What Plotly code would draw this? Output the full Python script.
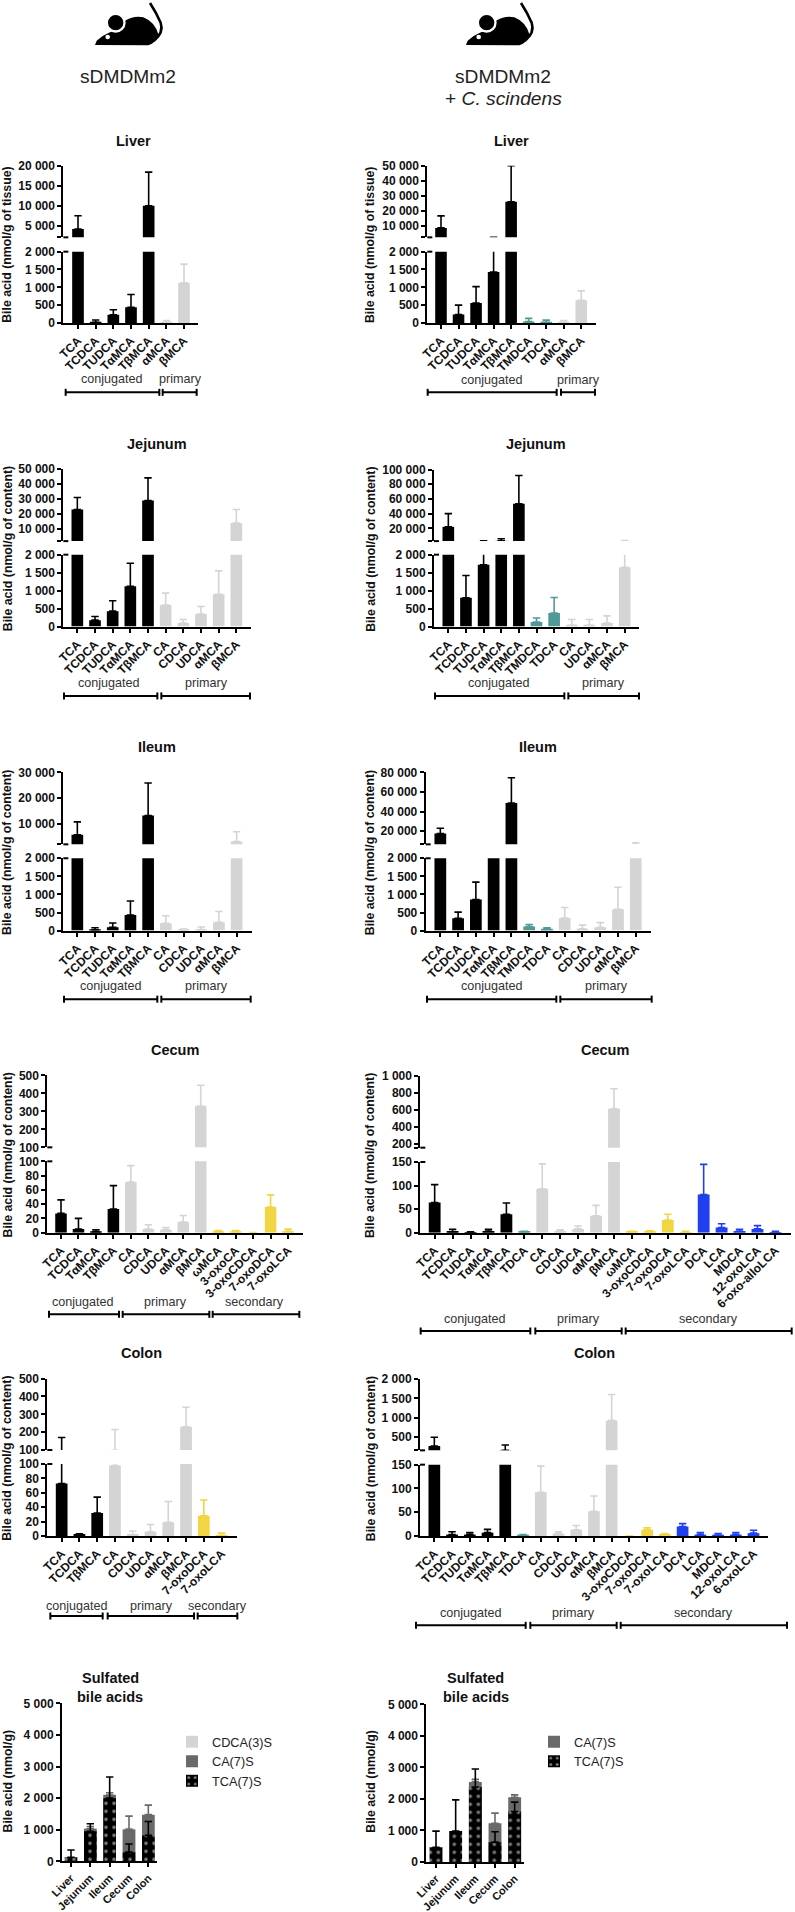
import plotly.graph_objects as go

W, H = 795, 1912
FONT = "Liberation Sans"
COL = dict(k="#000000", t="#4f9a97", g="#d4d4d4", y="#f2d544", b="#2040f0")

# ---------- data (means, upper error-bar ends, colour group) ----------
L_LIVER_LABELS = ["TCA", "TCDCA", "TUDCA", "TαMCA", "TβMCA", "αMCA", "βMCA"]
L_LIVER_MEAN = [4200, 20, 230, 440, 10000, 20, 1130]
L_LIVER_TOP = [7500, 84, 370, 800, 18400, 70, 1650]
L_LIVER_GRP = "kkkkkgg"

R_LIVER_LABELS = ["TCA", "TCDCA", "TUDCA", "TαMCA", "TβMCA", "TMDCA", "TDCA", "αMCA", "βMCA"]
R_LIVER_MEAN = [8500, 240, 560, 1430, 25900, 40, 20, 20, 640]
R_LIVER_TOP = [16500, 500, 1020, 2300, 50000, 130, 80, 70, 900]
R_LIVER_GRP = "kkkkkttgg"

L_JEJ_LABELS = ["TCA", "TCDCA", "TUDCA", "TαMCA", "TβMCA", "CA", "CDCA", "UDCA", "αMCA", "βMCA"]
L_JEJ_MEAN = [23000, 180, 430, 1120, 29000, 600, 100, 350, 900, 14000]
L_JEJ_TOP = [31000, 280, 720, 1760, 44000, 930, 200, 560, 1550, 23000]
L_JEJ_GRP = "kkkkkggggg"

R_JEJ_LABELS = ["TCA", "TCDCA", "TUDCA", "TαMCA", "TβMCA", "TMDCA", "TDCA", "CA", "UDCA", "αMCA", "βMCA"]
R_JEJ_MEAN = [22000, 800, 1720, 3000, 53500, 130, 380, 40, 40, 100, 1650]
R_JEJ_TOP = [40000, 1420, 3000, 5800, 92000, 240, 810, 200, 200, 300, 3500]
R_JEJ_GRP = "kkkkkttgggg"

L_ILE_LABELS = ["TCA", "TCDCA", "TUDCA", "TαMCA", "TβMCA", "CA", "CDCA", "UDCA", "αMCA", "βMCA"]
L_ILE_MEAN = [5800, 20, 90, 430, 13300, 200, 30, 30, 230, 3200]
L_ILE_TOP = [10800, 80, 210, 820, 25900, 410, 40, 100, 530, 7000]
L_ILE_GRP = "kkkkkggggg"

R_ILE_LABELS = ["TCA", "TCDCA", "TUDCA", "TαMCA", "TβMCA", "TMDCA", "TDCA", "CA", "CDCA", "UDCA", "αMCA", "βMCA"]
R_ILE_MEAN = [17600, 340, 860, 5000, 48800, 110, 50, 350, 50, 90, 590, 4500]
R_ILE_TOP = [23000, 510, 1340, 5000, 74600, 170, 80, 640, 150, 220, 1200, 8000]
R_ILE_GRP = "kkkkkttggggg"

L_CEC_LABELS = ["TCA", "TCDCA", "TαMCA", "TβMCA", "CA", "CDCA", "UDCA", "αMCA", "βMCA", "ωMCA",
                "3-oxoCA", "3-oxoCDCA", "7-oxoDCA", "7-oxoLCA"]
L_CEC_MEAN = [27, 5, 1.5, 33, 71, 5, 4, 15, 330, 1, 1, 0, 36, 2]
L_CEC_TOP = [46, 20, 4, 66, 94, 11, 7, 24, 445, 3, 3, 0, 53, 5]
L_CEC_GRP = "kkkkgggggyyyyy"

R_CEC_LABELS = ["TCA", "TCDCA", "TUDCA", "TαMCA", "TβMCA", "TDCA", "CA", "CDCA", "UDCA", "αMCA", "βMCA",
                "ωMCA", "3-oxoCDCA", "7-oxoDCA", "7-oxoLCA", "DCA", "LCA", "MDCA", "12-oxoLCA", "6-oxo-alloLCA"]
R_CEC_MEAN = [64, 2, 1, 3, 39, 2, 93, 3, 8, 36, 615, 2, 2, 27, 1, 81, 11, 3, 8, 1]
R_CEC_TOP = [102, 7, 2, 7, 63, 3, 146, 6, 14, 58, 850, 3, 4, 39, 3, 145, 19, 7, 15, 3]
R_CEC_GRP = "kkkkktgggggyyyybbbbb"

L_COL_LABELS = ["TCA", "TCDCA", "TβMCA", "CA", "CDCA", "UDCA", "αMCA", "βMCA", "7-oxoDCA", "7-oxoLCA"]
L_COL_MEAN = [73, 2, 32, 98, 2, 6, 19, 230, 28, 1]
L_COL_TOP = [170, 3, 54, 215, 7, 16, 48, 340, 50, 4]
L_COL_GRP = "kkkgggggyy"

R_COL_LABELS = ["TCA", "TCDCA", "TUDCA", "TαMCA", "TβMCA", "TDCA", "CA", "CDCA", "UDCA", "αMCA", "βMCA",
                "3-oxoCDCA", "7-oxoDCA", "7-oxoLCA", "DCA", "LCA", "MDCA", "12-oxoLCA", "6-oxoLCA"]
R_COL_MEAN = [276, 3, 3, 7, 165, 2, 92, 5, 13, 52, 935, 0, 13, 4, 20, 3, 1, 3, 6]
R_COL_TOP = [500, 9, 7, 14, 300, 3, 147, 9, 22, 84, 1600, 0, 17, 5, 26, 7, 5, 7, 12]
R_COL_GRP = "kkkkktgggggyyybbbbb"

SULF_LABELS = ["Liver", "Jejunum", "Ileum", "Cecum", "Colon"]
L_SULF_CDCA = [0, 1050, 2120, 1030, 1490]
L_SULF_CDCA_TOP = [0, 1060, 2130, 1040, 1500]
L_SULF_CA = [0, 1030, 2100, 1010, 1470]
L_SULF_CA_TOP = [0, 1100, 2170, 1430, 1780]
L_SULF_TCA = [130, 950, 2000, 290, 820]
L_SULF_TCA_TOP = [360, 1190, 2670, 550, 1260]
R_SULF_CA = [0, 0, 2540, 1230, 2050]
R_SULF_CA_TOP = [0, 0, 2620, 1550, 2130]
R_SULF_TCA = [470, 980, 2380, 630, 1600]
R_SULF_TCA_TOP = [980, 1970, 2950, 960, 1900]

# ---------- geometry, in px of the 795x1912 page ----------
YS = 1.13  # vertical factor for the jejunum/ileum readings

def z(o, v):
    return o + v / 3

fx = lambda px: px / W
fy = lambda py: 1 - py / H

fig = go.Figure()
shapes, annos = [], []
layout = {}

def text(t, x, y, size, bold=False, color="#111", angle=0, italic=False):
    annos.append(dict(text=t, x=fx(x), y=fy(y), xref="paper", yref="paper", showarrow=False,
                      xanchor="center", yanchor="middle", textangle=angle,
                      font=dict(family=FONT, size=size, color=color, weight=700 if bold else 400,
                                style="italic" if italic else "normal")))

def line(x0, y0, x1, y1, w=2, color="#000"):
    shapes.append(dict(type="line", xref="paper", yref="paper", x0=fx(x0), y0=fy(y0), x1=fx(x1), y1=fy(y1),
                       line=dict(color=color, width=w)))

def fmt(v):
    return f"{int(v):,}".replace(",", " ")

def axis_style():
    return dict(automargin=False, showgrid=False, zeroline=False, showline=True, linecolor="#000", linewidth=2,
                ticks="outside", ticklen=4, tickwidth=2, tickcolor="#000",
                tickfont=dict(family=FONT, size=12, color="#111", weight=700))

def xaxis(p, labels, x0px, step, left, right, yname, tick_size=12):
    style = axis_style()
    style["tickfont"]["size"] = tick_size
    layout[f"xaxis{p}"] = dict(style, domain=[fx(left), fx(right)], anchor=yname,
                               type="category", categoryorder="array", categoryarray=labels,
                               tickvals=labels, tickangle=-45,
                               range=[(left - x0px) / step, (right - x0px) / step])

def panel(p, labels, mean, top, grp, ox, oy, c0, step, xl, xr, axx, y0, ylt, yub, yut,
          low_ticks, up_ticks, up_bottom, up_label_bottom, title, tx, ty, ytitle, ytx, brackets, ys=1.0):
    low_top = low_ticks[-1]
    left, right = z(ox, axx), z(ox, xr)
    Y = lambda v: z(oy, v * ys)
    low, upn = 2 * p - 1, 2 * p
    xaxis(p, labels, z(ox, c0), step / 3, left, right, f"y{low}")
    layout[f"yaxis{low}"] = dict(axis_style(), domain=[fy(Y(y0)), fy(Y(ylt))], anchor=f"x{p}",
                                 range=[0, low_top], tickvals=low_ticks, ticktext=[fmt(v) for v in low_ticks])
    utv = [up_bottom] + up_ticks
    utt = [fmt(up_bottom) if up_label_bottom else ""] + [fmt(v) for v in up_ticks]
    layout[f"yaxis{upn}"] = dict(axis_style(), domain=[fy(Y(yub)), fy(Y(yut))], anchor=f"x{p}",
                                 range=[up_bottom, up_ticks[-1]], tickvals=utv, ticktext=utt)
    for g in dict.fromkeys(grp):
        for yn in (low, upn):
            idx = [i for i, c in enumerate(grp) if c == g and (yn == low or top[i] > up_bottom)]
            if not idx:
                continue
            er = [top[i] - mean[i] for i in idx]
            fig.add_bar(x=[labels[i] for i in idx], y=[mean[i] for i in idx], xaxis=f"x{p}", yaxis=f"y{yn}",
                        width=0.66, showlegend=False, marker=dict(color=COL[g], line_width=0),
                        error_y=dict(type="data", symmetric=False, array=er, arrayminus=[0] * len(er),
                                     color=COL[g], thickness=1.6, width=3.7))
    # break marks
    line(left, Y(yub), left + 5, Y(yub))
    line(left, Y(ylt), left + 5, Y(ylt))
    text(title, z(ox, tx), Y(ty), 14.5, bold=True)
    text(ytitle, ytx, (Y(y0) + Y(yut)) / 2 + 1, 12.3, bold=True, angle=-90)
    for name, b0, b1, tc, by, tyy in brackets:
        line(z(ox, b0), Y(by), z(ox, b1), Y(by))
        line(z(ox, b0), Y(by) - 3.5, z(ox, b0), Y(by) + 3.5)
        line(z(ox, b1), Y(by) - 3.5, z(ox, b1), Y(by) + 3.5)
        text(name, z(ox, tc), Y(tyy), 12.6, color="#333")

TISSUE = "Bile acid (nmol/g of tissue)"
CONTENT = "Bile acid (nmol/g of content)"
LX, RX = 7.5, 370.7
K2 = [0, 500, 1000, 1500, 2000]

panel(1, L_LIVER_LABELS, L_LIVER_MEAN, L_LIVER_TOP, L_LIVER_GRP, 0, 0, 234, 53, 178, 595, 190, 969, 755, 712, 497,
      K2, [5000, 10000, 15000, 20000], 2100, False, "Liver", 400, 422, TISSUE, LX,
      [("conjugated", 197, 478, 337, 1177, 1137), ("primary", 488, 590, 540, 1177, 1137)])
panel(2, R_LIVER_LABELS, R_LIVER_MEAN, R_LIVER_TOP, R_LIVER_GRP, 395, 0, 138, 52.6, 85, 602, 97, 969, 755, 712, 497,
      K2, [10000, 20000, 30000, 40000, 50000], 2200, False, "Liver", 350, 422, TISSUE, RX,
      [("conjugated", 98, 485, 292, 1177, 1140), ("primary", 498, 600, 549, 1177, 1140)])
panel(3, L_JEJ_LABELS, L_JEJ_MEAN, L_JEJ_TOP, L_JEJ_GRP, 0, 430, 232, 53, 178, 752, 190, 522, 331, 295, 103,
      K2, [10000, 20000, 30000, 40000, 50000], 2000, False, "Jejunum", 470, 36, CONTENT, LX,
      [("conjugated", 192, 472, 328, 706, 671), ("primary", 484, 750, 618, 706, 671)], ys=YS)
panel(4, R_JEJ_LABELS, R_JEJ_MEAN, R_JEJ_TOP, R_JEJ_GRP, 395, 430, 160, 52.9, 105, 732, 117, 522, 331, 295, 105,
      K2, [20000, 40000, 60000, 80000, 100000], 2600, False, "Jejunum", 423, 36, CONTENT, RX,
      [("conjugated", 120, 508, 313, 706, 671), ("primary", 520, 732, 625, 706, 671)], ys=YS)
panel(5, L_ILE_LABELS, L_ILE_MEAN, L_ILE_TOP, L_ILE_GRP, 0, 430, 232, 53.1, 178, 755, 190, 1329, 1137, 1100, 909,
      K2, [10000, 20000, 30000], 2100, False, "Ileum", 470, 842, CONTENT, LX,
      [("conjugated", 192, 472, 332, 1511, 1477), ("primary", 484, 752, 618, 1511, 1477)], ys=YS)
panel(6, R_ILE_LABELS, R_ILE_MEAN, R_ILE_TOP, R_ILE_GRP, 395, 430, 136, 53.3, 80, 768, 92, 1329, 1137, 1100, 909,
      K2, [20000, 40000, 60000, 80000], 6500, False, "Ileum", 430, 842, CONTENT, RX,
      [("conjugated", 96, 484, 290, 1511, 1477), ("primary", 496, 770, 633, 1511, 1477)], ys=YS)
panel(7, L_CEC_LABELS, L_CEC_MEAN, L_CEC_TOP, L_CEC_GRP, 0, 1030, 183, 52.4, 128, 908, 142, 608, 394, 352, 136,
      [0, 20, 40, 60, 80, 100], [200, 300, 400, 500], 100, True, "Cecum", 524, 60, CONTENT, LX,
      [("conjugated", 147, 357, 248, 853, 817), ("primary", 368, 628, 497, 853, 817), ("secondary", 638, 898, 764, 853, 817)])
panel(8, R_CEC_LABELS, R_CEC_MEAN, R_CEC_TOP, R_CEC_GRP, 395, 1030, 119, 53.8, 62, 1188, 76, 608, 396, 353, 138,
      [0, 50, 100, 150], [200, 400, 600, 800, 1000], 156, False, "Cecum", 630, 60, CONTENT, RX,
      [("conjugated", 77, 406, 241, 903, 868), ("primary", 421, 680, 550, 903, 868), ("secondary", 692, 1190, 940, 903, 868)])
panel(9, L_COL_LABELS, L_COL_MEAN, L_COL_TOP, L_COL_GRP, 0, 1340, 185, 53.3, 128, 710, 142, 588, 372, 330, 116,
      [0, 20, 40, 60, 80, 100], [200, 300, 400, 500], 100, True, "Colon", 425, 40, CONTENT, LX,
      [("conjugated", 151, 308, 230, 828, 797), ("primary", 323, 582, 453, 828, 797), ("secondary", 593, 712, 653, 828, 797)])
panel(10, R_COL_LABELS, R_COL_MEAN, R_COL_TOP, R_COL_GRP, 395, 1340, 118, 53.2, 62, 1118, 75, 588, 374, 331, 117,
      [0, 50, 100, 150], [500, 1000, 1500, 2000], 164, False, "Colon", 597, 40, CONTENT, RX,
      [("conjugated", 63, 392, 227, 856, 818), ("primary", 406, 665, 535, 856, 818), ("secondary", 677, 1176, 926, 856, 818)])

# ---------- sulfated panels ----------
SULF_Y = [0, 1000, 2000, 3000, 4000, 5000]

def sulf(p, series, ox, oy, c0, step, xl, xr, axx, y0, yt, tx, ytx, legend_name, lx, ly):
    left, right = z(ox, axx), z(ox, xr)
    yn = 2 * p - 1
    xaxis(p, SULF_LABELS, z(ox, c0), step / 3, left, right, f"y{yn}", tick_size=11)
    layout[f"yaxis{yn}"] = dict(axis_style(), domain=[fy(z(oy, y0)), fy(z(oy, yt))], anchor=f"x{p}",
                                range=[0, 5000], tickvals=SULF_Y, ticktext=[fmt(v) for v in SULF_Y])
    for name, mean, top, color, dotted in series:
        m = dict(color=color, line_width=0)
        if dotted:
            m["pattern"] = dict(shape=".", bgcolor="#000000", fgcolor="#ffffff", size=8, solidity=0.16)
        fig.add_bar(x=SULF_LABELS, y=mean, xaxis=f"x{p}", yaxis=f"y{yn}", width=0.655, name=name,
                    marker=m, legend=legend_name, legendgroup=name + legend_name,
                    error_y=dict(type="data", symmetric=False, array=[t - v for t, v in zip(top, mean)],
                                 arrayminus=[0] * 5, color=color if not dotted else "#000000",
                                 thickness=1.6, width=3.7))
    text("Sulfated", z(ox, tx), 1678, 14.5, bold=True)
    text("bile acids", z(ox, tx), 1697, 14.5, bold=True)
    text("Bile acid (nmol/g)", ytx, 1782, 12.3, bold=True, angle=-90)
    layout[legend_name] = dict(x=fx(lx), y=fy(ly), xanchor="left", yanchor="top", bgcolor="rgba(0,0,0,0)",
                               traceorder="normal", tracegroupgap=5.5, itemclick=False,
                               font=dict(family=FONT, size=12.7, color="#222"))

GREY_L, GREY_D = "#d4d4d4", "#696969"
sulf(11, [("CDCA(3)S", L_SULF_CDCA, L_SULF_CDCA_TOP, GREY_L, False),
          ("CA(7)S", L_SULF_CA, L_SULF_CA_TOP, GREY_D, False),
          ("TCA(7)S", L_SULF_TCA, L_SULF_TCA_TOP, "#000000", True)],
     0, 1660, 213, 58, 172, 472, 186, 604, 130, 330, LX, "legend", 172, 1727)
sulf(12, [("CA(7)S", R_SULF_CA, R_SULF_CA_TOP, GREY_D, False),
          ("TCA(7)S", R_SULF_TCA, R_SULF_TCA_TOP, "#000000", True)],
     395, 1660, 123, 59, 80, 388, 94, 606, 133, 242, RX, "legend2", 534, 1727)

# ---------- column headings and mouse icons ----------
def mouse(dx):
    X = lambda v: fx(dx + v / 3)
    Y = lambda v: fy(v / 3)
    P = lambda a, b: f"{X(a)},{Y(b)}"
    body = (f"M{P(285,135)} L{P(290,122)} Q{P(308,106)} {P(330,97)} L{P(345,92)} Q{P(372,92)} {P(375,62)} "
            f"Q{P(402,46)} {P(430,52)} Q{P(466,66)} {P(476,106)} Q{P(466,130)} {P(445,136)} Z")
    tail = f"M{P(462,122)} Q{P(492,98)} {P(482,68)} Q{P(470,40)} {P(450,9)}"
    shapes.append(dict(type="path", xref="paper", yref="paper", path=body, fillcolor="#000", line=dict(width=0)))
    shapes.append(dict(type="path", xref="paper", yref="paper", path=tail, line=dict(color="#000", width=2.6)))
    def circ(cx, cy, r, color):
        shapes.append(dict(type="circle", xref="paper", yref="paper", x0=X(cx - r), x1=X(cx + r),
                           y0=Y(cy + r), y1=Y(cy - r), fillcolor=color, line=dict(width=0)))
    circ(347, 68, 30, "#fff")
    circ(347, 68, 23, "#000")
    circ(323, 111, 7, "#fff")

mouse(0)
mouse(371)
text("sDMDMm2", 128, 76, 19.2, color="#222")
text("sDMDMm2", 503.3, 76, 19.2, color="#222")
annos.append(dict(text="+ <i>C. scindens</i>", x=fx(503.5), y=fy(98.7), xref="paper", yref="paper", showarrow=False,
                  xanchor="center", yanchor="middle", font=dict(family=FONT, size=19.2, color="#222")))

fig.update_layout(width=W, height=H, autosize=False, margin=dict(l=0, r=0, t=0, b=0, pad=0), paper_bgcolor="#fff",
                  plot_bgcolor="rgba(0,0,0,0)", barmode="overlay", bargap=0.34, showlegend=True,
                  shapes=shapes, annotations=annos, font=dict(family=FONT), **layout)
fig.write_html("out.html", config=dict(displayModeBar=False),
               post_script="document.body.style.margin='0';")
